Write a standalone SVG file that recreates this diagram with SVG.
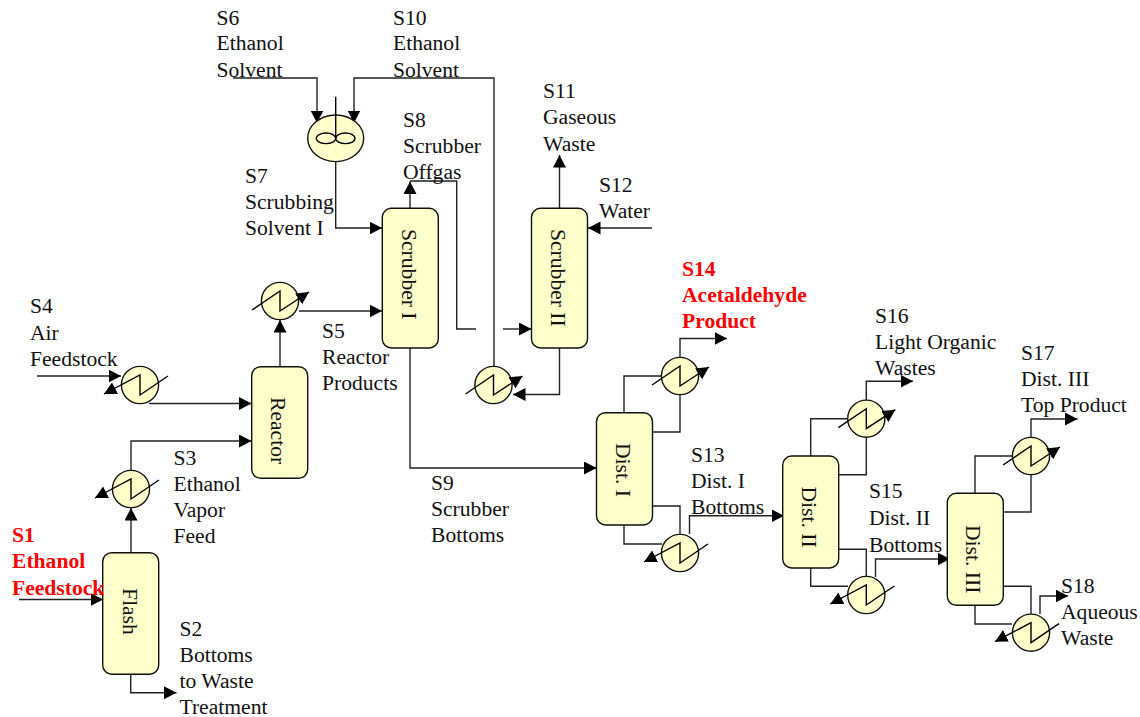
<svg xmlns="http://www.w3.org/2000/svg" width="1140" height="717" viewBox="0 0 1140 717">
<style>
.col{fill:#ffffcc;stroke:#111;stroke-width:1.4}
.hx{fill:#ffffcc;stroke:#111;stroke-width:1.4}
.c{fill:none;stroke:#222;stroke-width:1.4}
.z{fill:none;stroke:#000;stroke-width:1.4}
text{font-family:"Liberation Serif","Times New Roman",serif;font-size:21.6px;fill:#111}
.r{font-weight:bold;fill:#ff0000}
</style>
<defs>
<marker id="a" markerUnits="userSpaceOnUse" markerWidth="15" markerHeight="15" refX="12.500" refY="6.500" orient="auto"><path d="M0 0L12.500 6.500L0 13Z" fill="#000"/></marker>
<g id="hxA"><circle class="hx" r="18.6"/><path class="z" d="M28 -9L0 10L0 -10L-36 9" marker-end="url(#a)"/></g>
<g id="hxB"><circle class="hx" r="18.6"/><path class="z" d="M-28 9L0 -10L0 10L29 -9" marker-end="url(#a)"/></g>
</defs>
<g id="connectors">
<path class="c" d="M233 78H317V123" marker-end="url(#a)"/>
<path class="c" d="M494 367V78H354V123" marker-end="url(#a)"/>
<path class="c" d="M335.700 161V228H382" marker-end="url(#a)"/>
<path class="c" d="M410 208V181.500" marker-end="url(#a)"/>
<path class="c" d="M410 181H456.700V329H476"/>
<path class="c" d="M503 329H531.500" marker-end="url(#a)"/>
<path class="c" d="M559.500 208V155" marker-end="url(#a)"/>
<path class="c" d="M652 228H588" marker-end="url(#a)"/>
<path class="c" d="M559.500 348V394.500H513" marker-end="url(#a)"/>
<path class="c" d="M280 367V320" marker-end="url(#a)"/>
<path class="c" d="M299 311H382" marker-end="url(#a)"/>
<path class="c" d="M37 376H121" marker-end="url(#a)"/>
<path class="c" d="M149 403.500H251.500" marker-end="url(#a)"/>
<path class="c" d="M131 470V441H251.500" marker-end="url(#a)"/>
<path class="c" d="M131 553V508" marker-end="url(#a)"/>
<path class="c" d="M19 599.500H103" marker-end="url(#a)"/>
<path class="c" d="M130.700 664V692.700H176.500" marker-end="url(#a)"/>
<path class="c" d="M410 348V468H596.500" marker-end="url(#a)"/>
<path class="c" d="M624 413V376H662"/>
<path class="c" d="M680 395V432H652"/>
<path class="c" d="M680 357V338.500H727" marker-end="url(#a)"/>
<path class="c" d="M652 506H680V535"/>
<path class="c" d="M624 525V544H662"/>
<path class="c" d="M689.500 534V515.700H784" marker-end="url(#a)"/>
<path class="c" d="M810.700 456V418.700H848"/>
<path class="c" d="M866.300 437V474.700H838.500"/>
<path class="c" d="M866.300 400V381.300H913" marker-end="url(#a)"/>
<path class="c" d="M838.500 549.300H866.300V577"/>
<path class="c" d="M810.700 568V586.300H848"/>
<path class="c" d="M875.500 577V559H950" marker-end="url(#a)"/>
<path class="c" d="M975 493V456H1012"/>
<path class="c" d="M1031 475V512H1003"/>
<path class="c" d="M1031 437V419H1077.500" marker-end="url(#a)"/>
<path class="c" d="M1003 586.300H1031V614"/>
<path class="c" d="M975 605V624H1012"/>
<path class="c" d="M1040 614V596H1068" marker-end="url(#a)"/>
</g>
<g id="flash"><rect class="col" x="102.700" y="552.700" width="56" height="121.500" rx="9"/><text transform="translate(122.500 588) rotate(90)">Flash</text></g>
<g id="reactor"><rect class="col" x="251.700" y="366.700" width="56" height="111.600" rx="9"/><text transform="translate(271 397) rotate(90)">Reactor</text></g>
<g id="scrubber1"><rect class="col" x="382.300" y="208.300" width="56" height="139.700" rx="9"/><text transform="translate(401.500 229) rotate(90)">Scrubber I</text></g>
<g id="scrubber2"><rect class="col" x="531.500" y="208.300" width="56" height="139.700" rx="9"/><text transform="translate(550.500 229) rotate(90)">Scrubber II</text></g>
<g id="dist1"><rect class="col" x="596.500" y="412.700" width="56" height="112.300" rx="9"/><text transform="translate(615.500 443) rotate(90)">Dist. I</text></g>
<g id="dist2"><rect class="col" x="782.700" y="456" width="56" height="112" rx="9"/><text transform="translate(802 486.500) rotate(90)">Dist. II</text></g>
<g id="dist3"><rect class="col" x="947.300" y="493.300" width="56" height="112" rx="9"/><text transform="translate(965.500 525) rotate(90)">Dist. III</text></g>
<g id="mixer"><ellipse class="hx" cx="335.700" cy="138.300" rx="28" ry="23.300"/><path class="z" d="M335.700 96.700V138.300"/><ellipse class="z" cx="326" cy="138.300" rx="9.700" ry="5.300"/><ellipse class="z" cx="345.400" cy="138.300" rx="9.700" ry="5.300"/></g>
<use id="hx-s4" href="#hxA" x="140" y="385"/>
<use id="hx-s3" href="#hxA" x="131" y="489"/>
<use id="hx-reactor" href="#hxB" x="280" y="301"/>
<use id="hx-scrubber" href="#hxB" x="493.500" y="385"/>
<use id="hx-d1top" href="#hxB" x="680" y="376"/>
<use id="hx-d1bot" href="#hxA" x="680" y="553"/>
<use id="hx-d2top" href="#hxB" x="866.300" y="418.700"/>
<use id="hx-d2bot" href="#hxA" x="866.300" y="595"/>
<use id="hx-d3top" href="#hxB" x="1031" y="456"/>
<use id="hx-d3bot" href="#hxA" x="1031" y="632.700"/>
<g id="labels">
<text x="12" y="542" class="r">S1</text><text x="12" y="568" class="r">Ethanol</text><text x="12" y="594.500" class="r">Feedstock</text>
<text x="179.500" y="636">S2</text><text x="179.500" y="662">Bottoms</text><text x="179.500" y="688">to Waste</text><text x="179.500" y="714">Treatment</text>
<text x="173.500" y="465">S3</text><text x="173.500" y="491">Ethanol</text><text x="173.500" y="517">Vapor</text><text x="173.500" y="543">Feed</text>
<text x="30" y="313">S4</text><text x="30" y="340">Air</text><text x="30" y="366">Feedstock</text>
<text x="322" y="338">S5</text><text x="322" y="364">Reactor</text><text x="322" y="390">Products</text>
<text x="216.500" y="24.500">S6</text><text x="216.500" y="50">Ethanol</text><text x="216.500" y="77">Solvent</text>
<text x="245" y="183">S7</text><text x="245" y="209">Scrubbing</text><text x="245" y="235">Solvent I</text>
<text x="403" y="127">S8</text><text x="403" y="153">Scrubber</text><text x="403" y="179">Offgas</text>
<text x="431" y="490">S9</text><text x="431" y="516">Scrubber</text><text x="431" y="542">Bottoms</text>
<text x="393" y="24.500">S10</text><text x="393" y="50">Ethanol</text><text x="393" y="77">Solvent</text>
<text x="543" y="98">S11</text><text x="543" y="124">Gaseous</text><text x="543" y="151">Waste</text>
<text x="599" y="192">S12</text><text x="599" y="218">Water</text>
<text x="691" y="461.500">S13</text><text x="691" y="487.500">Dist. I</text><text x="691" y="513.500">Bottoms</text>
<text x="682" y="276" class="r">S14</text><text x="682" y="302" class="r">Acetaldehyde</text><text x="682" y="328" class="r">Product</text>
<text x="869" y="498">S15</text><text x="869" y="525">Dist. II</text><text x="869" y="551.500">Bottoms</text>
<text x="875" y="323">S16</text><text x="875" y="349">Light Organic</text><text x="875" y="375">Wastes</text>
<text x="1021" y="360">S17</text><text x="1021" y="386">Dist. III</text><text x="1021" y="412">Top Product</text>
<text x="1061" y="592.500">S18</text><text x="1061" y="618.500">Aqueous</text><text x="1061" y="644.500">Waste</text>
</g>
</svg>
